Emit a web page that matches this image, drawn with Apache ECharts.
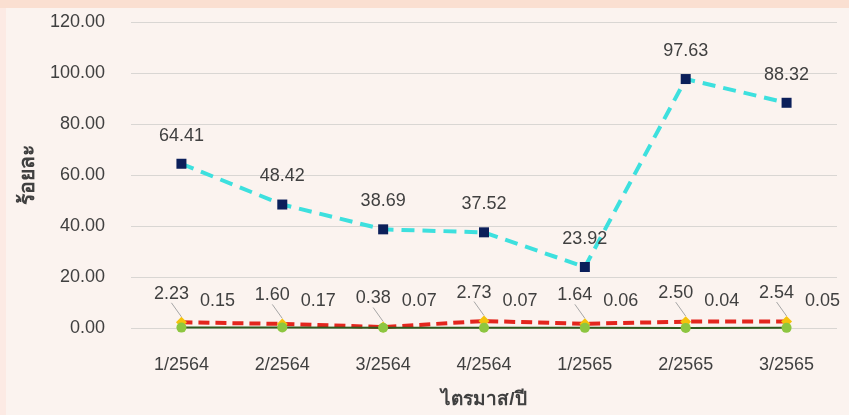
<!DOCTYPE html>
<html>
<head>
<meta charset="utf-8">
<script src="https://cdn.jsdelivr.net/npm/echarts@6/dist/echarts.min.js"></script>
<style>
  html, body { margin: 0; padding: 0; background: #FBF3EF; }
  #chart { width: 849px; height: 415px; }
</style>
</head>
<body>
<div id="chart"></div>
<script>
// ข้อมูลรายไตรมาส
var quarters = ['1/2564', '2/2564', '3/2564', '4/2564', '1/2565', '2/2565', '3/2565'];
var mainValues = [64.41, 48.42, 38.69, 37.52, 23.92, 97.63, 88.32];
var redValues = [2.23, 1.60, 0.38, 2.73, 1.64, 2.50, 2.54];
var greenValues = [0.15, 0.17, 0.07, 0.07, 0.06, 0.04, 0.05];

var fontName = 'Liberation Sans, Tahoma, sans-serif';
var textColor = '#404040';

var myChart = echarts.init(document.getElementById('chart'));

function fmt(p) { return p.value.toFixed(2); }

var option = {
	backgroundColor: '#FBF3EF',
	animation: false,
	textStyle: { fontFamily: fontName },
	graphic: [
		// แถบสีด้านบนและด้านซ้าย
		{ type: 'rect', left: 0, top: 0, shape: { width: 849, height: 8 }, style: { fill: '#FADFD1' }, z: -1 },
		{ type: 'rect', left: 0, top: 8, shape: { width: 6, height: 407 }, style: { fill: '#FCEAE4' }, z: -1 }
	],
	grid: {
		left: 131,
		right: 12,
		top: 22,
		bottom: 87
	},
	xAxis: {
		type: 'category',
		data: quarters,
		boundaryGap: true,
		name: 'ไตรมาส/ปี',
		nameLocation: 'middle',
		nameGap: 62,
		nameTextStyle: { fontSize: 19, fontWeight: 'bold', color: textColor },
		axisLine: { show: false },
		axisTick: { show: false },
		axisLabel: { fontSize: 18, color: textColor, margin: 28 }
	},
	yAxis: {
		type: 'value',
		min: 0,
		max: 120,
		interval: 20,
		name: 'ร้อยละ',
		nameLocation: 'middle',
		nameGap: 92,
		nameTextStyle: { fontSize: 21, fontWeight: 'bold', color: textColor },
		axisLine: { show: false },
		axisTick: { show: false },
		axisLabel: {
			fontSize: 18,
			color: textColor,
			margin: 26,
			formatter: function (v) { return v.toFixed(2); }
		},
		splitLine: { lineStyle: { color: '#D9D6D3', width: 1 } }
	},
	series: [{
		name: 'main',
		type: 'line',
		data: mainValues,
		symbol: 'rect',
		symbolSize: 10,
		lineStyle: { color: '#3DE0DE', width: 4, type: [13, 8] },
		itemStyle: { color: '#0B1F5A' },
		label: {
			show: true,
			position: 'top',
			distance: 14,
			fontSize: 18,
			color: textColor,
			formatter: fmt
		},
		z: 3
	}, {
		name: 'red',
		type: 'line',
		data: redValues,
		symbol: 'diamond',
		symbolSize: 11,
		lineStyle: { color: '#E3261E', width: 4, type: [11, 6] },
		itemStyle: { color: '#F4C20D' },
		label: {
			show: true,
			position: 'top',
			distance: 5,
			fontSize: 18,
			color: textColor,
			formatter: fmt
		},
		labelLayout: { dx: -10, dy: -9 },
		labelLine: { show: true, lineStyle: { color: '#A6A6A6', width: 1 } },
		z: 4
	}, {
		name: 'green',
		type: 'line',
		data: greenValues,
		symbol: 'circle',
		symbolSize: 10,
		lineStyle: { color: '#2F5A1E', width: 2 },
		itemStyle: { color: '#8DC640' },
		label: {
			show: true,
			position: 'top',
			distance: 5,
			offset: [36, -8],
			fontSize: 18,
			color: textColor,
			formatter: fmt
		},
		z: 5
	}]
};
myChart.setOption(option);
</script>
</body>
</html>
